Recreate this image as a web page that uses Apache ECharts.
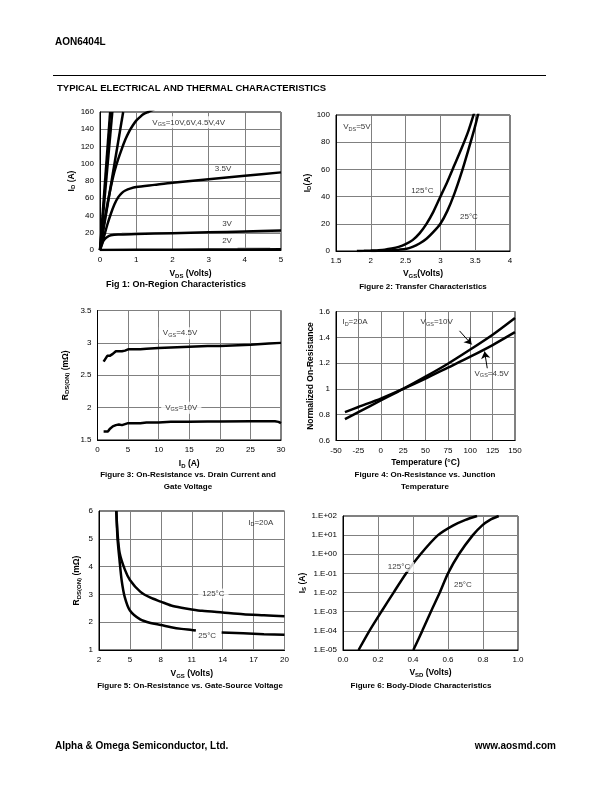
<!DOCTYPE html>
<html><head><meta charset="utf-8">
<script src="https://cdn.jsdelivr.net/npm/echarts@6/dist/echarts.min.js"></script>
<style>html,body{margin:0;padding:0;background:#fff}#c{width:612px;height:792px}</style>
</head><body><div id="c"></div>
<script>
// ---------- Fig 1: On-Region Characteristics (ID vs VDS) ----------
const f1_vgs10 = [[0,0],[0.28,160]];
const f1_vgs6 = [[0,0],[0.34,160]];
const f1_vgs45 = [[0,0],[0.64,160]];
const f1_vgs4 = [[0,0],[0.1,28],[0.2,52],[0.3,73],[0.4,91],[0.5,105],[0.6,117],[0.7,128],[0.8,137],[0.9,144],[1.0,150],[1.1,154],[1.2,157.5],[1.33,160],[1.5,163]];
const f1_vgs35 = [[0,0],[0.1,14],[0.2,29],[0.3,42],[0.4,53],[0.5,61],[0.6,66],[0.7,69],[0.85,71.5],[1,73],[1.5,75.5],[2,78],[3,82],[4,86],[5,90]];
const f1_vgs3 = [[0,0],[0.05,6],[0.1,11],[0.2,15],[0.3,17],[0.5,18],[1,18.5],[2,19.5],[3,20.5],[4,21.5],[5,22.5]];
const f1_vgs3_gray = [[0.6,19.3],[2,19.6],[3,20],[4,20.3],[5,20.6]];
const f1_vgs2 = [[0,0],[1,0.2],[2,0.35],[3,0.5],[4,0.6],[5,0.8]];
const f1_vgs2_gray = [[3.8,1.9],[4.7,1.9]];

// ---------- Fig 2: Transfer Characteristics ----------
const f2_t125 = [[1.8,0],[1.9,0.1],[2.0,0.3],[2.1,0.6],[2.2,1],[2.3,1.8],[2.4,3],[2.5,5],[2.6,8],[2.7,13],[2.8,20],[2.9,29],[3.0,40],[3.1,51],[3.2,63],[3.3,75],[3.4,88],[3.5,104]];
const f2_t25 = [[2.0,0],[2.1,0.1],[2.2,0.3],[2.3,0.6],[2.4,1],[2.5,1.5],[2.6,3],[2.7,5.5],[2.8,9],[2.9,14],[3.0,20],[3.1,29.5],[3.2,42],[3.3,57],[3.4,74],[3.5,92],[3.6,113]];

// ---------- Fig 3: On-Resistance vs Drain Current ----------
const f3_vgs45 = [[1,2.71],[1.3,2.74],[1.6,2.8],[2,2.8],[2.5,2.83],[3,2.87],[4,2.87],[4.5,2.88],[5,2.9],[6,2.9],[7,2.9],[8,2.91],[10,2.92],[12,2.93],[15,2.94],[18,2.95],[20,2.95],[22,2.96],[25,2.97],[28,2.99],[30,3.0]];
const f3_vgs10 = [[1,1.63],[1.7,1.63],[2,1.67],[2.5,1.71],[3,1.73],[3.5,1.74],[4,1.73],[5,1.76],[6,1.76],[7,1.76],[8,1.77],[10,1.77],[12,1.78],[15,1.78],[18,1.785],[20,1.785],[25,1.79],[29,1.79],[29.6,1.78],[30,1.76]];

// ---------- Fig 4: Normalized On-Resistance vs Temperature ----------
const f4_temp = [-40,-25,0,25,50,75,100,125,150];
const f4_vgs10 = [0.765,0.82,0.91,1.0,1.095,1.195,1.305,1.42,1.55];
const f4_vgs45 = [0.82,0.86,0.925,1.0,1.08,1.165,1.25,1.34,1.44];
const f4_arrow10 = [[88,1.45],[101.5,1.345]];
const f4_arrow45 = [[119,1.16],[116,1.29]];

// ---------- Fig 5: On-Resistance vs Gate-Source Voltage ----------
const f5_t125 = [[3.68,6],[3.8,5.2],[4,4.5],[4.5,3.9],[5,3.52],[6,3.1],[7,2.88],[8,2.74],[9,2.6],[10,2.52],[11,2.46],[12,2.41],[14,2.35],[16,2.29],[18,2.25],[20,2.21]];
const f5_t25a = [[3.68,6],[3.8,5.0],[4,4.2],[4.2,3.5],[4.5,2.9],[5,2.42],[6,2.1],[7,1.97],[8,1.9],[9,1.82],[10,1.76],[11,1.72],[11.4,1.7]];
const f5_t25b = [[13.9,1.63],[16,1.6],[18,1.57],[20,1.55]];

// ---------- Fig 6: Body-Diode Characteristics (log IS vs VSD) ----------
const f6_t125 = [[0.089,1e-5],[0.151,1e-4],[0.219,1e-3],[0.289,1e-2],[0.36,1e-1],[0.443,1],[0.543,10],[0.628,31.6],[0.70,63],[0.766,100]];
const f6_t25 = [[0.402,1e-5],[0.453,1e-4],[0.502,1e-3],[0.553,1e-2],[0.60,1e-1],[0.662,1],[0.742,10],[0.794,31.6],[0.84,63],[0.89,100]];

const FONT = '"Liberation Sans", Arial, sans-serif';
const rich = {
  n: {fontSize: 8, fontFamily: FONT, color: '#000'},
  s: {fontSize: 5.5, fontFamily: FONT, color: '#000', padding: [4,0,0,0]},
  nb: {fontSize: 8.5, fontFamily: FONT, color: '#000', fontWeight: 'bold'},
  sb: {fontSize: 6, fontFamily: FONT, color: '#000', fontWeight: 'bold', padding: [4,0,0,0]}
};

const grids = [
  {left: 100, top: 112, width: 181, height: 138},
  {left: 336, top: 115, width: 174, height: 136},
  {left: 97.5, top: 310.5, width: 183.5, height: 129.5},
  {left: 336, top: 311.5, width: 179, height: 129},
  {left: 99, top: 511, width: 185.5, height: 139},
  {left: 343, top: 516, width: 175, height: 134}
];

function xAx(i, min, max, interval, name, gap, extra) {
  return Object.assign({
    gridIndex: i, type: 'value', min, max, interval,
    name, nameLocation: 'middle', nameGap: gap,
    nameTextStyle: {rich, fontSize: 8.5, fontWeight: 'bold', fontFamily: FONT, color: '#000'},
    axisLine: {show: true, onZero: false, lineStyle: {color: '#000', width: 1}},
    axisTick: {show: false},
    axisLabel: {fontSize: 8, fontFamily: FONT, color: '#000', margin: 6},
    splitLine: {show: true, lineStyle: {color: '#808080', width: 1}}
  }, extra || {});
}
function yAx(i, min, max, interval, name, gap, extra) {
  return Object.assign({
    gridIndex: i, type: 'value', min, max, interval,
    name, nameLocation: 'middle', nameGap: gap, nameRotate: 90,
    nameTextStyle: {rich, fontSize: 8.5, fontWeight: 'bold', fontFamily: FONT, color: '#000'},
    axisLine: {show: true, onZero: false, lineStyle: {color: '#000', width: 1}},
    axisTick: {show: false},
    axisLabel: {fontSize: 8, fontFamily: FONT, color: '#000', margin: 6},
    splitLine: {show: true, lineStyle: {color: '#808080', width: 1}}
  }, extra || {});
}

function line(i, data, opts) {
  return Object.assign({
    type: 'line', xAxisIndex: i, yAxisIndex: i, data,
    showSymbol: false, symbol: 'none', smooth: 0.25,
    lineStyle: {color: '#000', width: 2.5}, clip: true, silent: true, animation: false
  }, opts || {});
}
function lbl(i, pts) {
  return {
    type: 'scatter', xAxisIndex: i, yAxisIndex: i, symbolSize: 0, silent: true, animation: false, z: 5,
    data: pts.map(p => ({value: [p[0], p[1]], label: {
      show: true, position: 'inside', formatter: p[2], rich,
      backgroundColor: p[3] ? '#fff' : 'transparent', padding: p[3] ? [1,4] : 0
    }}))
  };
}

function logFmt(v) {
  const e = Math.round(Math.log10(v));
  return '1.E' + (e >= 0 ? '+' : '-') + String(Math.abs(e)).padStart(2, '0');
}

const chart = echarts.init(document.getElementById('c'), null, {renderer: 'canvas'});
const option = {
  animation: false,
  backgroundColor: '#fff',
  grid: grids.map(g => Object.assign({show: true, borderColor: '#000', borderWidth: 1, backgroundColor: 'transparent'}, g)),
  xAxis: [
    xAx(0, 0, 5, 1, '{nb|V}{sb|DS}{nb| (Volts)}', 19),
    xAx(1, 1.5, 4, 0.5, '{nb|V}{sb|GS}{nb|(Volts)}', 18),
    xAx(2, 0, 30, 5, '{nb|I}{sb|D}{nb| (A)}', 19),
    xAx(3, -50, 150, 25, '{nb|Temperature (°C)}', 18),
    xAx(4, 2, 20, 3, '{nb|V}{sb|GS}{nb| (Volts)}', 19),
    xAx(5, 0, 1, 0.2, '{nb|V}{sb|SD}{nb| (Volts)}', 18, {axisLabel: {fontSize: 8, fontFamily: FONT, color: '#000', margin: 6, formatter: v => v.toFixed(1)}})
  ],
  yAxis: [
    yAx(0, 0, 160, 20, '{nb|I}{sb|D}{nb| (A)}', 22),
    yAx(1, 0, 100, 20, '{nb|I}{sb|D}{nb|(A)}', 20),
    yAx(2, 1.5, 3.5, 0.5, '{nb|R}{sb|DS(ON)}{nb| (mΩ)}', 27),
    yAx(3, 0.6, 1.6, 0.2, '{nb|Normalized On-Resistance}', 20, {axisLabel: {fontSize: 8, fontFamily: FONT, color: '#000', margin: 6, formatter: v => String(Math.round(v*10)/10)}}),
    yAx(4, 1, 6, 1, '{nb|R}{sb|DS(ON)}{nb| (mΩ)}', 17),
    yAx(5, 1e-5, 100, 1, '{nb|I}{sb|S}{nb| (A)}', 24, {type: 'log', logBase: 10, axisLabel: {fontSize: 8, fontFamily: FONT, color: '#000', margin: 6, formatter: logFmt}})
  ],
  series: [
    line(0, f1_vgs10, {smooth: false}),
    line(0, f1_vgs6, {smooth: false}),
    line(0, f1_vgs45, {smooth: false}),
    line(0, f1_vgs4),
    line(0, f1_vgs35),
    line(0, f1_vgs3_gray, {lineStyle: {color: '#aaa', width: 1.5}}),
    line(0, f1_vgs3),
    line(0, f1_vgs2_gray, {smooth: false, lineStyle: {color: '#aaa', width: 1.5}}),
    line(0, f1_vgs2, {smooth: false}),
    lbl(0, [[2.45,148,'{n|V}{s|GS}{n|=10V,6V,4.5V,4V}',1],[3.4,94,'{n|3.5V}',0],[3.51,30,'{n|3V}',0],[3.51,11,'{n|2V}',0]]),

    line(1, f2_t125),
    line(1, f2_t25),
    lbl(1, [[1.8,91,'{n|V}{s|DS}{n|=5V}',0],[2.74,44.6,'{n|125°C}',0],[3.41,25,'{n|25°C}',0]]),

    line(2, f3_vgs45, {smooth: false}),
    line(2, f3_vgs10, {smooth: false}),
    lbl(2, [[13.5,3.15,'{n|V}{s|GS}{n|=4.5V}',1],[13.7,2.0,'{n|V}{s|GS}{n|=10V}',1]]),

    line(3, f4_temp.map((t, k) => [t, f4_vgs10[k]]), {
      markLine: {silent: true, animation: false, symbol: ['none','arrow'], symbolSize: 7,
        lineStyle: {color: '#000', width: 1, type: 'solid'}, label: {show: false},
        data: [
          [{coord: f4_arrow10[0]}, {coord: f4_arrow10[1]}],
          [{coord: f4_arrow45[0]}, {coord: f4_arrow45[1]}]
        ]}}),
    line(3, f4_temp.map((t, k) => [t, f4_vgs45[k]])),
    lbl(3, [[-28.8,1.517,'{n|I}{s|D}{n|=20A}',0],[62.5,1.517,'{n|V}{s|GS}{n|=10V}',0],[124,1.12,'{n|V}{s|GS}{n|=4.5V}',0]]),

    line(4, f5_t125),
    line(4, f5_t25a),
    line(4, f5_t25b, {smooth: false}),
    lbl(4, [[17.7,5.59,'{n|I}{s|D}{n|=20A}',0],[13.1,3.03,'{n|125°C}',1],[12.5,1.52,'{n|25°C}',0]]),

    line(5, f6_t125),
    line(5, f6_t25),
    lbl(5, [[0.32,0.22,'{n|125°C}',1],[0.685,0.025,'{n|25°C}',0]])
  ],
  graphic: [
    {type: 'text', left: 55, top: 37, style: {text: 'AON6404L', font: 'bold 10px ' + FONT, fill: '#000'}},
    {type: 'line', shape: {x1: 53, y1: 75.5, x2: 546, y2: 75.5}, style: {stroke: '#000', lineWidth: 1}},
    {type: 'text', left: 57, top: 83.5, style: {text: 'TYPICAL ELECTRICAL AND THERMAL CHARACTERISTICS', font: 'bold 9.5px ' + FONT, fill: '#000'}},
    {type: 'text', x: 176, y: 285, style: {text: 'Fig 1: On-Region Characteristics', font: 'bold 9px ' + FONT, fill: '#000', align: 'center', verticalAlign: 'middle'}},
    {type: 'text', x: 423, y: 287, style: {text: 'Figure 2: Transfer Characteristics', font: 'bold 8px ' + FONT, fill: '#000', align: 'center', verticalAlign: 'middle'}},
    {type: 'text', x: 188, y: 475, style: {text: 'Figure 3: On-Resistance vs. Drain Current and', font: 'bold 8px ' + FONT, fill: '#000', align: 'center', verticalAlign: 'middle'}},
    {type: 'text', x: 188, y: 487, style: {text: 'Gate Voltage', font: 'bold 8px ' + FONT, fill: '#000', align: 'center', verticalAlign: 'middle'}},
    {type: 'text', x: 425, y: 475, style: {text: 'Figure 4: On-Resistance vs. Junction', font: 'bold 8px ' + FONT, fill: '#000', align: 'center', verticalAlign: 'middle'}},
    {type: 'text', x: 425, y: 487, style: {text: 'Temperature', font: 'bold 8px ' + FONT, fill: '#000', align: 'center', verticalAlign: 'middle'}},
    {type: 'text', x: 190, y: 686, style: {text: 'Figure 5: On-Resistance vs. Gate-Source Voltage', font: 'bold 8px ' + FONT, fill: '#000', align: 'center', verticalAlign: 'middle'}},
    {type: 'text', x: 421, y: 686, style: {text: 'Figure 6: Body-Diode Characteristics', font: 'bold 8px ' + FONT, fill: '#000', align: 'center', verticalAlign: 'middle'}},
    {type: 'text', left: 55, top: 741.5, style: {text: 'Alpha & Omega Semiconductor, Ltd.', font: 'bold 10px ' + FONT, fill: '#000'}},
    {type: 'text', right: 56, top: 741.5, style: {text: 'www.aosmd.com', font: 'bold 10px ' + FONT, fill: '#000'}}
  ]
};
chart.setOption(option);
</script></body></html>
